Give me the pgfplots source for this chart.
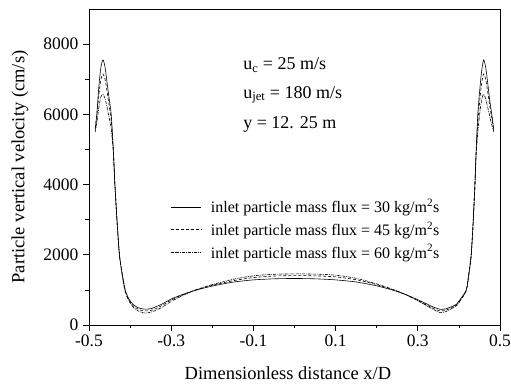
\documentclass[border=0pt]{standalone}
\usepackage{fontspec}
\setmainfont{Liberation Serif}
\usepackage{pgfplots}
\pgfplotsset{compat=1.18}

\pgfplotstableread{
x y
-0.485 5570
-0.481 6000
-0.476 6800
-0.471 7350
-0.466 7550
-0.461 7350
-0.456 6900
-0.451 6450
-0.446 6000
-0.441 5050
-0.437 4000
-0.432 3000
-0.426 2000
-0.419 1450
-0.412 1000
-0.403 740
-0.392 580
-0.380 490
-0.370 460
-0.360 450
-0.348 470
-0.335 530
-0.320 610
-0.300 740
-0.270 880
-0.240 990
-0.200 1110
-0.150 1220
-0.100 1285
-0.050 1315
0.000 1325
0.050 1315
0.100 1285
0.150 1225
0.200 1115
0.240 990
0.270 870
0.300 720
0.320 610
0.340 500
0.355 445
0.368 460
0.380 510
0.395 600
0.405 760
0.418 1000
0.424 1450
0.430 2000
0.435 3000
0.439 4000
0.442 5000
0.446 6000
0.450 6600
0.455 7200
0.460 7550
0.465 7350
0.470 6900
0.475 6400
0.480 6000
0.485 5550
}\seriesA

\pgfplotstableread{
x y
-0.485 5600
-0.481 5950
-0.476 6550
-0.471 7000
-0.466 7150
-0.461 7000
-0.456 6650
-0.451 6250
-0.446 5850
-0.441 5000
-0.437 4000
-0.432 3000
-0.426 2000
-0.419 1430
-0.412 980
-0.403 720
-0.392 540
-0.380 450
-0.370 410
-0.360 400
-0.348 420
-0.335 480
-0.320 570
-0.300 710
-0.270 870
-0.240 1000
-0.200 1130
-0.150 1260
-0.100 1350
-0.050 1395
0.000 1405
0.050 1400
0.100 1370
0.150 1290
0.200 1150
0.240 1000
0.270 870
0.300 700
0.320 580
0.340 460
0.355 400
0.368 420
0.380 480
0.395 580
0.405 740
0.418 990
0.424 1430
0.430 2000
0.435 3000
0.439 4000
0.442 4900
0.446 5750
0.450 6300
0.455 6850
0.460 7150
0.465 7000
0.470 6650
0.475 6250
0.480 5900
0.485 5550
}\seriesB

\pgfplotstableread{
x y
-0.485 5500
-0.481 5750
-0.476 6200
-0.471 6500
-0.466 6570
-0.461 6450
-0.456 6200
-0.451 5900
-0.446 5600
-0.441 4950
-0.437 4000
-0.432 3000
-0.426 2000
-0.419 1400
-0.412 950
-0.403 690
-0.392 500
-0.380 400
-0.370 350
-0.360 340
-0.348 370
-0.335 430
-0.320 520
-0.300 670
-0.270 850
-0.240 1000
-0.200 1150
-0.150 1300
-0.100 1400
-0.050 1445
0.000 1455
0.050 1450
0.100 1420
0.150 1330
0.200 1170
0.240 1010
0.270 870
0.300 690
0.320 560
0.340 430
0.355 350
0.368 380
0.380 450
0.395 560
0.405 720
0.418 970
0.424 1400
0.430 2000
0.435 3000
0.439 4000
0.442 4850
0.446 5500
0.450 5950
0.455 6400
0.460 6570
0.465 6450
0.470 6200
0.475 5950
0.480 5700
0.485 5500
}\seriesC

\begin{document}
\begin{tikzpicture}
\begin{axis}[
  scale only axis,
  width=411bp, height=316bp,
  xmin=-0.5, xmax=0.5, ymin=0, ymax=9000,
  axis line style={line width=0.8pt},
  xtick={-0.5,-0.3,-0.1,0.1,0.3,0.5},
  xticklabels={-0.5,-0.3,-0.1,0.1,0.3,0.5},
  minor xtick={-0.4,-0.2,0,0.2,0.4},
  ytick={0,2000,4000,6000,8000},
  yticklabels={0,2000,4000,6000,8000},
  minor ytick={1000,3000,5000,7000},
  tick align=outside,
  xtick pos=left, ytick pos=left,
  major tick length=6bp, minor tick length=3.5bp,
  tick style={black, line width=0.7pt},
  ticklabel style={font=\fontsize{17.5bp}{20bp}\selectfont},
  xticklabel style={yshift=0bp},
  yticklabel style={xshift=-1bp},
  scaled ticks=false,
  xlabel={Dimensionless distance x/D},
  ylabel={Particle vertical velocity (cm/s)},
  label style={font=\fontsize{18.5bp}{21bp}\selectfont},
  x label style={at={(axis description cs:0.484,-0.172)},anchor=base},
  y label style={at={(axis description cs:-0.168,0.5)},anchor=center},
  legend cell align=left,
  legend style={at={(axis description cs:0.195,0.408)},anchor=north west,
    draw=none, fill=none, font=\fontsize{16bp}{18bp}\selectfont,
    row sep=3.5bp, inner sep=1bp},
  legend image code/.code={\draw[#1] (0bp,0bp) -- (30bp,0bp); \path (38bp,0bp);},
]
\addplot[black, line width=0.6pt, smooth, tension=0.4] table[x=x,y=y] {\seriesA};
\addlegendentry{inlet particle mass flux = 30 kg/m\textsuperscript{2}s}
\addplot[black, line width=0.6pt, smooth, tension=0.4, dash pattern=on 3pt off 2pt] table[x=x,y=y] {\seriesB};
\addlegendentry{inlet particle mass flux = 45 kg/m\textsuperscript{2}s}
\addplot[black, line width=0.6pt, smooth, tension=0.4, dash pattern=on 3pt off 1pt on 0.8pt off 1pt] table[x=x,y=y] {\seriesC};
\addlegendentry{inlet particle mass flux = 60 kg/m\textsuperscript{2}s}
\node[anchor=west, font=\fontsize{18bp}{20bp}\selectfont, inner sep=0pt] at (axis description cs:0.375,0.823) {u\textsubscript{c} = 25 m/s};
\node[anchor=west, font=\fontsize{18bp}{20bp}\selectfont, inner sep=0pt] at (axis description cs:0.375,0.728) {u\textsubscript{jet} = 180 m/s};
\node[anchor=west, font=\fontsize{18bp}{20bp}\selectfont, inner sep=0pt] at (axis description cs:0.375,0.633) {y = 12. 25 m};
\end{axis}
\pgfresetboundingbox
\path[use as bounding box] ([xshift=-89bp,yshift=-62bp]current axis.south west) rectangle ([xshift=11bp,yshift=9bp]current axis.north east);
\end{tikzpicture}
\end{document}
